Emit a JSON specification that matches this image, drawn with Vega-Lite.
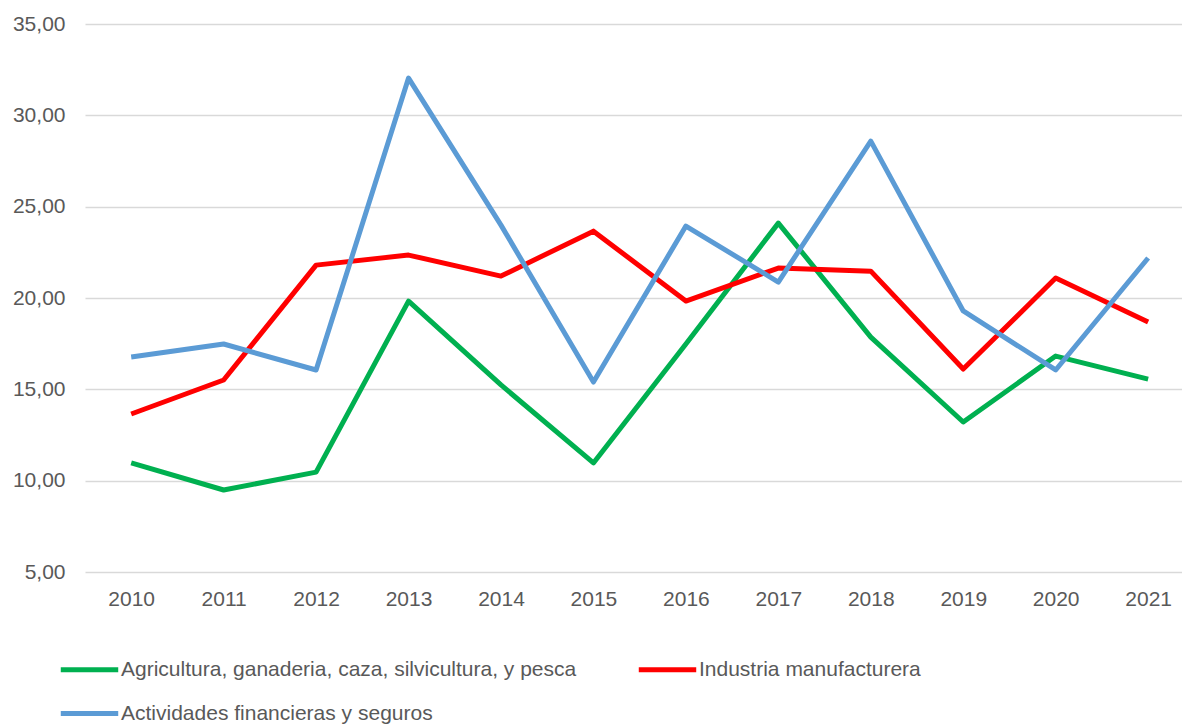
{
  "$schema": "https://vega.github.io/schema/vega-lite/v6.json",
  "width": 1097,
  "height": 548,
  "autosize": {"type": "none"},
  "padding": {"left": 85, "top": 24, "right": 0, "bottom": 155},
  "background": "white",
  "config": {
    "font": "Liberation Sans",
    "view": {"stroke": null},
    "axis": {"labelColor": "#595959", "labelFontSize": 21, "labelFont": "Liberation Sans"}
  },
  "data": {
    "values": [
      {"year": "2010", "series": "Agricultura, ganaderia, caza, silvicultura, y pesca", "value": 10.97},
      {"year": "2011", "series": "Agricultura, ganaderia, caza, silvicultura, y pesca", "value": 9.49},
      {"year": "2012", "series": "Agricultura, ganaderia, caza, silvicultura, y pesca", "value": 10.47},
      {"year": "2013", "series": "Agricultura, ganaderia, caza, silvicultura, y pesca", "value": 19.83},
      {"year": "2014", "series": "Agricultura, ganaderia, caza, silvicultura, y pesca", "value": 15.24},
      {"year": "2015", "series": "Agricultura, ganaderia, caza, silvicultura, y pesca", "value": 10.97},
      {"year": "2016", "series": "Agricultura, ganaderia, caza, silvicultura, y pesca", "value": 17.48},
      {"year": "2017", "series": "Agricultura, ganaderia, caza, silvicultura, y pesca", "value": 24.1},
      {"year": "2018", "series": "Agricultura, ganaderia, caza, silvicultura, y pesca", "value": 17.86},
      {"year": "2019", "series": "Agricultura, ganaderia, caza, silvicultura, y pesca", "value": 13.21},
      {"year": "2020", "series": "Agricultura, ganaderia, caza, silvicultura, y pesca", "value": 16.82},
      {"year": "2021", "series": "Agricultura, ganaderia, caza, silvicultura, y pesca", "value": 15.56},
      {"year": "2010", "series": "Industria manufacturera", "value": 13.65},
      {"year": "2011", "series": "Industria manufacturera", "value": 15.51},
      {"year": "2012", "series": "Industria manufacturera", "value": 21.8},
      {"year": "2013", "series": "Industria manufacturera", "value": 22.35},
      {"year": "2014", "series": "Industria manufacturera", "value": 21.2},
      {"year": "2015", "series": "Industria manufacturera", "value": 23.66},
      {"year": "2016", "series": "Industria manufacturera", "value": 19.83},
      {"year": "2017", "series": "Industria manufacturera", "value": 21.64},
      {"year": "2018", "series": "Industria manufacturera", "value": 21.47},
      {"year": "2019", "series": "Industria manufacturera", "value": 16.11},
      {"year": "2020", "series": "Industria manufacturera", "value": 21.09},
      {"year": "2021", "series": "Industria manufacturera", "value": 18.68},
      {"year": "2010", "series": "Actividades financieras y seguros", "value": 16.77},
      {"year": "2011", "series": "Actividades financieras y seguros", "value": 17.48},
      {"year": "2012", "series": "Actividades financieras y seguros", "value": 16.06},
      {"year": "2013", "series": "Actividades financieras y seguros", "value": 32.04},
      {"year": "2014", "series": "Actividades financieras y seguros", "value": 23.99},
      {"year": "2015", "series": "Actividades financieras y seguros", "value": 15.4},
      {"year": "2016", "series": "Actividades financieras y seguros", "value": 23.94},
      {"year": "2017", "series": "Actividades financieras y seguros", "value": 20.87},
      {"year": "2018", "series": "Actividades financieras y seguros", "value": 28.59},
      {"year": "2019", "series": "Actividades financieras y seguros", "value": 19.29},
      {"year": "2020", "series": "Actividades financieras y seguros", "value": 16.06},
      {"year": "2021", "series": "Actividades financieras y seguros", "value": 22.19}
    ]
  },
  "mark": {"type": "line", "strokeWidth": 5, "strokeJoin": "round"},
  "encoding": {
    "x": {
      "field": "year",
      "type": "ordinal",
      "title": null,
      "scale": {"type": "point", "padding": 0.433, "align": 0.577},
      "axis": {"labelAngle": 0, "ticks": false, "domain": false, "grid": false, "labelPadding": 16}
    },
    "y": {
      "field": "value",
      "type": "quantitative",
      "title": null,
      "scale": {"domain": [5, 35], "nice": false, "zero": false},
      "axis": {
        "values": [5, 10, 15, 20, 25, 30, 35],
        "labelExpr": "replace(format(datum.value, '.2f'), '.', ',')",
        "ticks": false,
        "domain": false,
        "grid": true,
        "gridColor": "#d9d9d9",
        "gridWidth": 1.5,
        "labelPadding": 20
      }
    },
    "color": {
      "field": "series",
      "type": "nominal",
      "sort": null,
      "scale": {
        "domain": ["Agricultura, ganaderia, caza, silvicultura, y pesca", "Industria manufacturera", "Actividades financieras y seguros"],
        "range": ["#00b050", "#ff0000", "#5b9bd5"]
      },
      "legend": {
        "title": null,
        "orient": "none",
        "legendX": -27,
        "legendY": 614,
        "columns": 2,
        "columnPadding": 51,
        "rowPadding": 2,
        "values": ["Agricultura, ganaderia, caza, silvicultura, y pesca", "Actividades financieras y seguros", "Industria manufacturera"],
        "symbolType": "stroke",
        "symbolSize": 3300,
        "symbolStrokeWidth": 5,
        "labelFontSize": 21,
        "labelColor": "#595959",
        "labelFont": "Liberation Sans",
        "labelOffset": 0,
        "labelLimit": 700
      }
    }
  }
}
